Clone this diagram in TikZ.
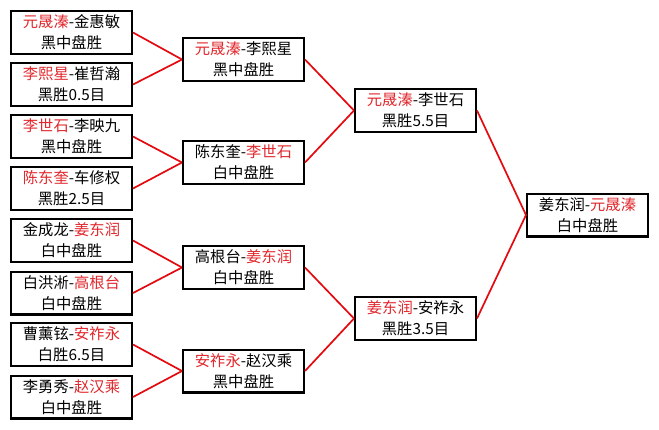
\documentclass[tikz,border=0pt]{standalone}
\usepackage{fontspec}
\setmainfont{Noto Sans CJK SC}
\definecolor{txtred}{RGB}{225,40,45}
\definecolor{linered}{RGB}{228,10,15}
\newcommand\rt[1]{\textcolor{txtred}{#1}}
\begin{document}
\begin{tikzpicture}[x=1pt,y=-1pt,
  res/.style={draw=black,line width=2.2pt,fill=white,minimum width=120.8pt,minimum height=42.8pt,
    inner sep=0pt,align=center,font=\fontsize{15.3}{21}\selectfont},
  link/.style={draw=linered,line width=1.7pt}]
\useasboundingbox[fill=white] (0,0) rectangle (659,429);
% round 1
\node[res] (a1) at (71.5,32.5) {\rt{元晟溱}-金惠敏\\黑中盘胜};
\node[res] (a2) at (71.5,84.5) {\rt{李熙星}-崔哲瀚\\黑胜0.5目};
\node[res] (a3) at (71.5,136.5) {\rt{李世石}-李映九\\黑中盘胜};
\node[res] (a4) at (71.5,188.5) {\rt{陈东奎}-车修权\\黑胜2.5目};
\node[res] (a5) at (71.5,240.5) {金成龙-\rt{姜东润}\\白中盘胜};
\node[res] (a6) at (71.5,293) {白洪淅-\rt{高根台}\\白中盘胜};
\node[res] (a7) at (71.5,344.5) {曹薰铉-\rt{安祚永}\\白胜6.5目};
\node[res] (a8) at (71.5,397) {李勇秀-\rt{赵汉乘}\\白中盘胜};
% round 2
\node[res] (b1) at (243.5,59.5) {\rt{元晟溱}-李熙星\\黑中盘胜};
\node[res] (b2) at (243.5,162.5) {陈东奎-\rt{李世石}\\白中盘胜};
\node[res] (b3) at (243.5,267.5) {高根台-\rt{姜东润}\\白中盘胜};
\node[res] (b4) at (243.5,371) {\rt{安祚永}-赵汉乘\\黑中盘胜};
% round 3
\node[res] (c1) at (415.5,110.5) {\rt{元晟溱}-李世石\\黑胜5.5目};
\node[res] (c2) at (415.5,318.5) {\rt{姜东润}-安祚永\\黑胜3.5目};
% final
\node[res] (d1) at (587.5,215) {姜东润-\rt{元晟溱}\\白中盘胜};
% connectors
\draw[link] (a1.east) -- (b1.west);
\draw[link] (a2.east) -- (b1.west);
\draw[link] (a3.east) -- (b2.west);
\draw[link] (a4.east) -- (b2.west);
\draw[link] (a5.east) -- (b3.west);
\draw[link] (a6.east) -- (b3.west);
\draw[link] (a7.east) -- (b4.west);
\draw[link] (a8.east) -- (b4.west);
\draw[link] (b1.east) -- (c1.west);
\draw[link] (b2.east) -- (c1.west);
\draw[link] (b3.east) -- (c2.west);
\draw[link] (b4.east) -- (c2.west);
\draw[link] (c1.east) -- (d1.west);
\draw[link] (c2.east) -- (d1.west);
\end{tikzpicture}
\end{document}
